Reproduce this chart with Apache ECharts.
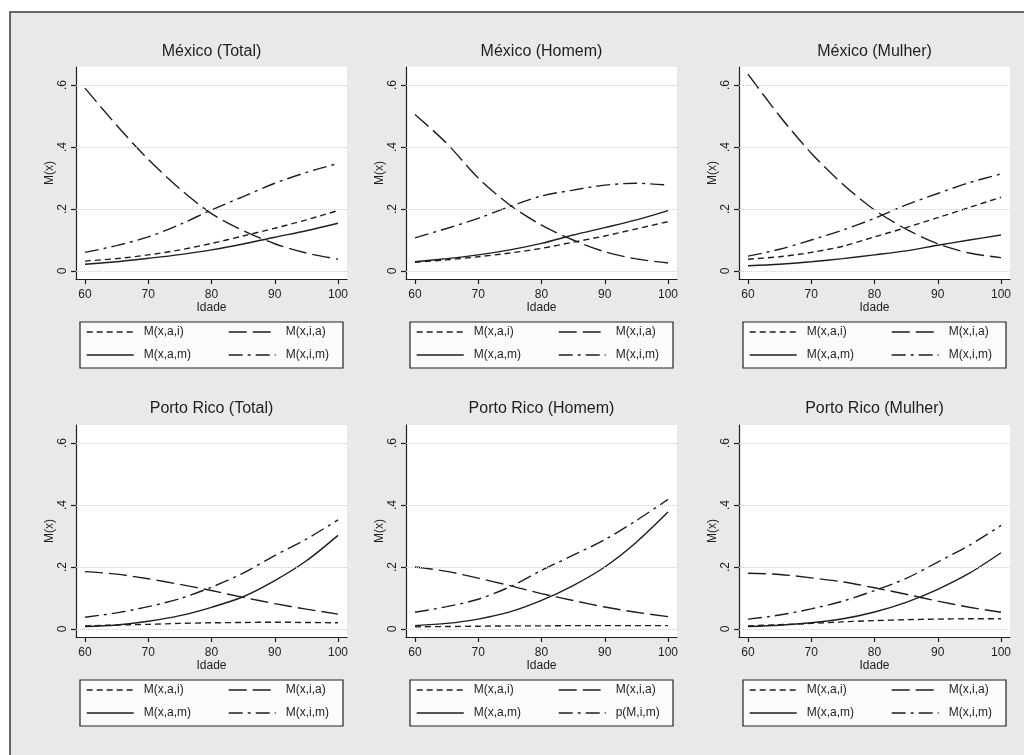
<!DOCTYPE html>
<html><head><meta charset="utf-8">
<script src="https://cdn.jsdelivr.net/npm/echarts@6/dist/echarts.min.js"></script>
<style>html,body{margin:0;padding:0;background:#fff}#c{width:1024px;height:755px}</style>
</head><body><div id="c"></div>
<script>
// ---- data ----
const ages = [60, 65, 70, 75, 80, 85, 90, 95, 100];

const mxT_ai = [0.032, 0.040, 0.052, 0.068, 0.089, 0.113, 0.138, 0.165, 0.195];
const mxT_ia = [0.590, 0.470, 0.360, 0.265, 0.185, 0.130, 0.088, 0.058, 0.038];
const mxT_am = [0.022, 0.030, 0.041, 0.053, 0.068, 0.087, 0.109, 0.130, 0.154];
const mxT_im = [0.060, 0.082, 0.110, 0.150, 0.197, 0.240, 0.283, 0.318, 0.347];

const mxH_ai = [0.028, 0.036, 0.046, 0.058, 0.073, 0.093, 0.113, 0.136, 0.159];
const mxH_ia = [0.505, 0.412, 0.300, 0.213, 0.148, 0.100, 0.062, 0.039, 0.026];
const mxH_am = [0.030, 0.040, 0.052, 0.068, 0.089, 0.116, 0.140, 0.165, 0.195];
const mxH_im = [0.107, 0.137, 0.170, 0.208, 0.242, 0.261, 0.277, 0.283, 0.277];

const mxM_ai = [0.038, 0.046, 0.060, 0.080, 0.110, 0.140, 0.172, 0.205, 0.238];
const mxM_ia = [0.635, 0.500, 0.380, 0.280, 0.197, 0.135, 0.088, 0.058, 0.043];
const mxM_am = [0.017, 0.022, 0.030, 0.040, 0.052, 0.065, 0.083, 0.100, 0.116];
const mxM_im = [0.048, 0.070, 0.100, 0.132, 0.170, 0.213, 0.250, 0.285, 0.313];

const prT_ai = [0.010, 0.013, 0.015, 0.018, 0.020, 0.021, 0.022, 0.021, 0.020];
const prT_ia = [0.185, 0.177, 0.162, 0.144, 0.124, 0.102, 0.082, 0.064, 0.048];
const prT_am = [0.008, 0.013, 0.025, 0.043, 0.070, 0.104, 0.156, 0.220, 0.302];
const prT_im = [0.038, 0.052, 0.072, 0.098, 0.135, 0.180, 0.237, 0.290, 0.352];

const prH_ai = [0.007, 0.008, 0.009, 0.010, 0.010, 0.011, 0.011, 0.011, 0.011];
const prH_ia = [0.200, 0.186, 0.164, 0.140, 0.114, 0.092, 0.071, 0.054, 0.040];
const prH_am = [0.011, 0.018, 0.032, 0.055, 0.092, 0.140, 0.200, 0.280, 0.377];
const prH_im = [0.054, 0.072, 0.096, 0.136, 0.189, 0.238, 0.288, 0.350, 0.418];

const prM_ai = [0.010, 0.014, 0.018, 0.023, 0.027, 0.030, 0.032, 0.033, 0.033];
const prM_ia = [0.180, 0.176, 0.165, 0.152, 0.133, 0.112, 0.090, 0.070, 0.054];
const prM_am = [0.008, 0.012, 0.020, 0.033, 0.055, 0.086, 0.128, 0.180, 0.246];
const prM_im = [0.032, 0.045, 0.065, 0.090, 0.124, 0.163, 0.216, 0.270, 0.334];

const panelTitles = ['México (Total)', 'México (Homem)', 'México (Mulher)',
                     'Porto Rico (Total)', 'Porto Rico (Homem)', 'Porto Rico (Mulher)'];
const namesStd = ['M(x,a,i)', 'M(x,i,a)', 'M(x,a,m)', 'M(x,i,m)'];
const namesPRH = ['M(x,a,i)', 'M(x,i,a)', 'M(x,a,m)', 'p(M,i,m)'];
const xTicks = [60, 70, 80, 90, 100];
const yTicks = [0, 0.2, 0.4, 0.6];
const yTickLabels = ['0', '.2', '.4', '.6'];
const xName = 'Idade';
const yName = 'M(x)';

const panelData = [
  [mxT_ai, mxT_ia, mxT_am, mxT_im],
  [mxH_ai, mxH_ia, mxH_am, mxH_im],
  [mxM_ai, mxM_ia, mxM_am, mxM_im],
  [prT_ai, prT_ia, prT_am, prT_im],
  [prH_ai, prH_ia, prH_am, prH_im],
  [prM_ai, prM_ia, prM_am, prM_im]
];
const panelNames = [namesStd, namesStd, namesStd, namesStd, namesPRH, namesStd];

// ---- layout / style ----
const FONT = '"Liberation Sans", Arial, sans-serif';
const INK = '#1e1e1e';
const lefts = [76, 406, 739];
const tops = [67, 425];
const GW = 271, GH = 212;
const titleTops = [44, 401];
const boxTops = [322, 680];
const dashTypes = [[6, 4], [18, 6], 'solid', [14, 5, 3, 5]];

const grid = [], xAxis = [], yAxis = [], series = [], title = [], legend = [], graphic = [];

graphic.push({type: 'rect', z: -10, silent: true,
  shape: {x: 10, y: 12, width: 1060, height: 800},
  style: {fill: '#e9e9e9', stroke: '#3a3a3a', lineWidth: 1.5}});

function makeLegend(names, left, top) {
  return {data: names, left: left, top: top,
    orient: 'vertical', itemWidth: 47, itemHeight: 14, itemGap: 11, padding: 0,
    selectedMode: false, z: 5,
    itemStyle: {opacity: 0, borderWidth: 0},
    lineStyle: {width: 1.4},
    formatter: '{a|{name}}',
    textStyle: {color: INK, fontSize: 12, fontFamily: FONT,
      rich: {a: {padding: [0, 0, 0, 5], color: INK, fontSize: 12, fontFamily: FONT}}}};
}

for (let p = 0; p < 6; p++) {
  const col = p % 3, row = Math.floor(p / 3);
  const gl = lefts[col], gt = tops[row];
  grid.push({left: gl, top: gt, width: GW, height: GH, show: true,
    backgroundColor: '#ffffff', borderWidth: 0});
  xAxis.push({type: 'value', gridIndex: p, min: 58.58, max: 101.42,
    name: xName, nameLocation: 'middle', nameGap: 23,
    nameTextStyle: {color: INK, fontSize: 12, fontFamily: FONT},
    axisLine: {show: true, onZero: false, lineStyle: {color: INK, width: 1.2}},
    axisTick: {show: true, customValues: xTicks, length: 5, lineStyle: {color: INK, width: 1.2}},
    axisLabel: {customValues: xTicks, margin: 10, color: INK, fontSize: 12, fontFamily: FONT},
    splitLine: {show: false}});
  yAxis.push({type: 'value', gridIndex: p, min: -0.0258, max: 0.658,
    name: yName, nameLocation: 'middle', nameGap: 15,
    nameTextStyle: {color: INK, fontSize: 12, fontFamily: FONT},
    axisLine: {show: true, onZero: false, lineStyle: {color: INK, width: 1.2}},
    axisTick: {show: true, customValues: yTicks, length: 5, lineStyle: {color: INK, width: 1.2}},
    axisLabel: {customValues: yTicks, rotate: 90, margin: 7, color: INK, fontSize: 12, fontFamily: FONT,
      formatter: function (v) {
        for (let i = 0; i < yTicks.length; i++) if (Math.abs(yTicks[i] - v) < 1e-6) return yTickLabels[i];
        return '';
      }},
    splitLine: {show: false}});
  title.push({text: panelTitles[p], left: gl + GW / 2, top: titleTops[row], padding: 0,
    textAlign: 'center', textVerticalAlign: 'top',
    textStyle: {color: INK, fontSize: 16, fontWeight: 'normal', fontFamily: FONT}});

  // grid lines
  series.push({type: 'line', name: 'grid' + p, xAxisIndex: p, yAxisIndex: p, data: [],
    silent: true, z: 1,
    markLine: {silent: true, symbol: 'none', label: {show: false}, animation: false,
      lineStyle: {color: '#cdcdcd', type: 'dotted', width: 1},
      data: yTicks.map(v => ({yAxis: v}))}});

  for (let k = 0; k < 4; k++) {
    const vals = panelData[p][k];
    series.push({type: 'line', name: panelNames[p][k], xAxisIndex: p, yAxisIndex: p,
      data: ages.map((a, j) => [a, vals[j]]),
      symbol: 'none', smooth: 0.3, silent: true, z: 3,
      lineStyle: {color: INK, width: 1.4, type: dashTypes[k]},
      itemStyle: {color: INK}});
  }

  const bl = gl + 4, bt = boxTops[row];
  graphic.push({type: 'rect', z: 1, silent: true,
    shape: {x: bl, y: bt, width: 263, height: 46},
    style: {fill: '#fbfbfb', stroke: '#222', lineWidth: 1.2}});
  legend.push(makeLegend([panelNames[p][0], panelNames[p][2]], bl + 6, bt + 4));
  legend.push(makeLegend([panelNames[p][1], panelNames[p][3]], bl + 148, bt + 4));
}

const chart = echarts.init(document.getElementById('c'), null, {renderer: 'canvas'});
chart.setOption({
  animation: false,
  backgroundColor: '#ffffff',
  title, legend, grid, xAxis, yAxis, series, graphic
});
</script></body></html>
